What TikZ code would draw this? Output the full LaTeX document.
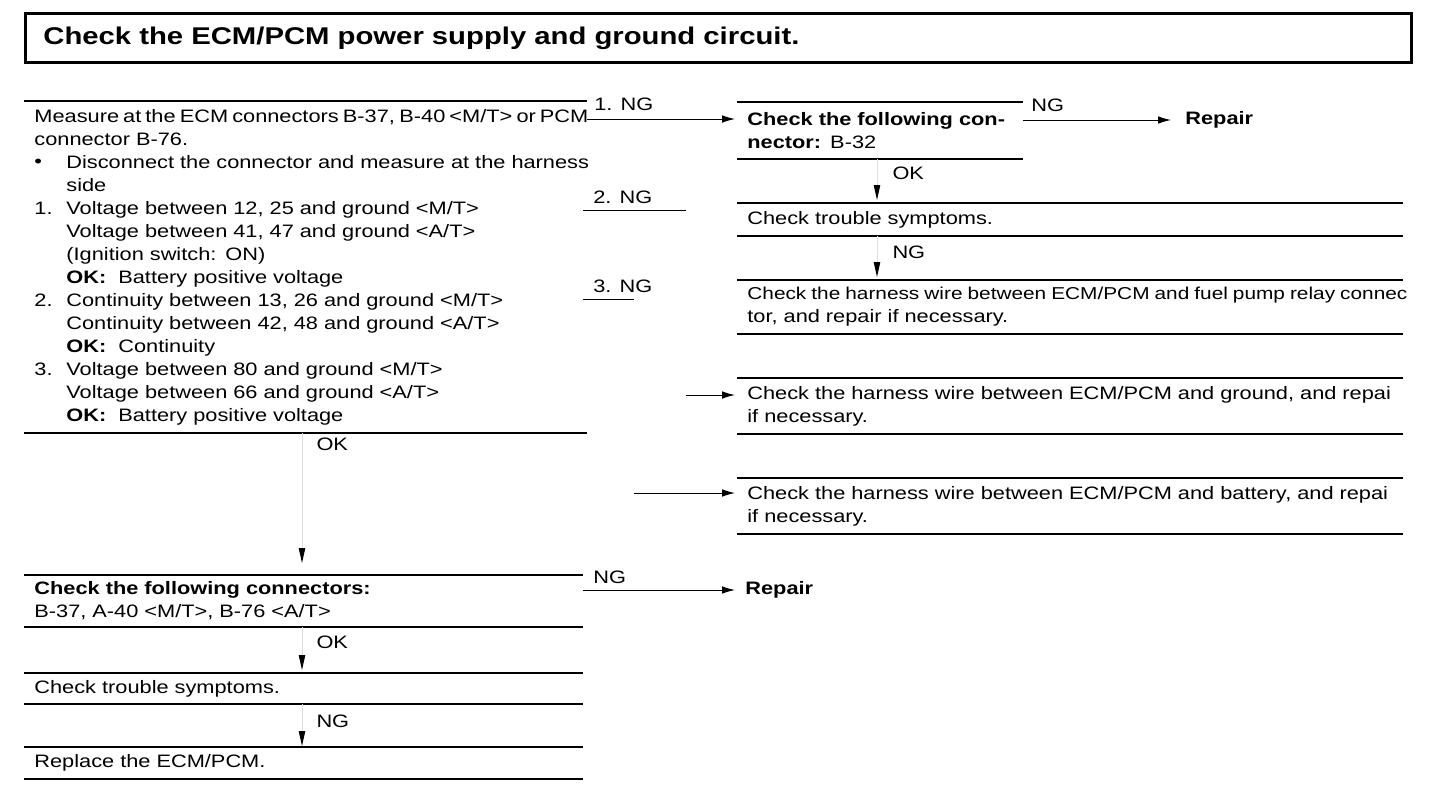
\documentclass[tikz,border=0pt]{standalone}
\usepackage{fontspec}
\setmainfont[FakeStretch=1.21]{Liberation Sans}
\usetikzlibrary{arrows.meta}

\newcommand{\itemlbl}[1]{\makebox[16pt][l]{#1}}

\begin{document}
\begin{tikzpicture}[
      x=0.5pt,
      y=-0.5pt,
      titlebox/.style={
        draw,
        line width=1.4pt,
        anchor=north west,
        font=\fontsize{12.1}{14}\selectfont\bfseries,
        align=left,
        inner xsep=9pt,
        inner ysep=0pt,
        text width=675pt,
        minimum height=24.5pt
      },
      stepbox/.style={
        anchor=north west,
        inner xsep=5pt,
        inner ysep=0pt,
        align=left,
        font=\fontsize{9}{11.5}\selectfont
      },
      steplabel/.style={font=\fontsize{9}{10}\selectfont, inner sep=0pt},
      rule/.style={line width=0.75pt},
      flow/.style={
        -{Latex[length=6.5pt,width=3.8pt]},
        line width=0.5pt
      },
      down/.style={
        draw=black!12,
        line width=0.5pt,
        -{Triangle[length=7.5pt,width=3.2pt,color=black]}
      }
    ]
    \useasboundingbox (0,0) rectangle (1440,788);

    \node[titlebox] (T) at (24,12) {Check the ECM/PCM power supply and ground circuit.};

    % left column
    \node[stepbox, text width=271pt, minimum height=165.5pt] (A) at (24,101) {
      \makebox[277pt][s]{\spaceskip=1.2pt plus 4pt Measure at the ECM connectors B-37, B-40 <M/T> or PCM}\\
      connector B-76.\\
      \itemlbl{\raisebox{0.5pt}{\textbullet}}\mbox{Disconnect the connector and measure at the harness}\\
      \itemlbl{}side\\
      \itemlbl{1.}Voltage between 12, 25 and ground <M/T>\\
      \itemlbl{}Voltage between 41, 47 and ground <A/T>\\
      \itemlbl{}(Ignition switch: ON)\\
      \itemlbl{}\textbf{OK:}~~Battery positive voltage\\
      \itemlbl{2.}Continuity between 13, 26 and ground <M/T>\\
      \itemlbl{}Continuity between 42, 48 and ground <A/T>\\
      \itemlbl{}\textbf{OK:}~~Continuity\\
      \itemlbl{3.}Voltage between 80 and ground <M/T>\\
      \itemlbl{}Voltage between 66 and ground <A/T>\\
      \itemlbl{}\textbf{OK:}~~Battery positive voltage
    };

    \node[stepbox, text width=269pt, minimum height=25.5pt] (G) at (24,575) {
      \textbf{Check the following connectors:}\\
      B-37, A-40 <M/T>, B-76 <A/T>
    };
    \node[stepbox, text width=269pt, minimum height=15pt] (H) at (24,673) {Check trouble symptoms.};
    \node[stepbox, text width=269pt, minimum height=15.5pt] (I) at (24,747) {Replace the ECM/PCM.};

    % right column
    \node[stepbox, text width=132.5pt, minimum height=28pt] (B) at (737,102) {
      \textbf{\makebox[\linewidth][s]{Check the following con-}}\\
      \textbf{nector:} B-32
    };
    \node[stepbox, text width=322.5pt, minimum height=16pt] (C) at (737,203) {Check trouble symptoms.};
    \node[stepbox, text width=322.5pt, minimum height=26.5pt] (D) at (737,280) {
      {\fontsize{8.6}{11.5}\selectfont\makebox[330pt][s]{\spaceskip=1.5pt plus 3pt Check the harness wire between ECM/PCM and fuel pump relay connec}}\\
      tor, and repair if necessary.
    };
    \node[stepbox, text width=322.5pt, minimum height=27.5pt] (E) at (737,378) {
      \makebox[330pt][s]{Check the harness wire between ECM/PCM and ground, and repai}\\
      if necessary.
    };
    \node[stepbox, text width=322.5pt, minimum height=27.5pt] (F) at (737,478) {
      \makebox[330pt][s]{Check the harness wire between ECM/PCM and battery, and repai}\\
      if necessary.
    };

    \node[stepbox, anchor=west, font=\fontsize{9}{11.5}\selectfont\bfseries, inner sep=0pt] (R1) at (1185,120) {Repair};
    \node[stepbox, anchor=west, font=\fontsize{9}{11.5}\selectfont\bfseries, inner sep=0pt] (R2) at (745,590) {Repair};

    \foreach \n in {A,B,C,D,E,F,G,H,I}
      \draw[rule] (\n.north west) -- (\n.north east) (\n.south west) -- (\n.south east);

    % NG branches out of the first check
    \coordinate (a1) at ([yshift=-9pt]A.north east);
    \draw[flow, shorten >=1pt] (a1) --
      node[steplabel, pos=0, anchor=south west, xshift=3.5pt, yshift=4pt] (ng1) {1. NG}
      (a1 -| B.west);

    \coordinate (a2) at ([yshift=-54.5pt]A.north east);
    \draw[line width=0.5pt] (a2) ++(-4,0) --
      node[steplabel, pos=0, anchor=south west, xshift=5pt, yshift=3pt] (ng2) {2. NG}
      ++(103,0) coordinate (a2e);
    \coordinate (e1) at ([yshift=-8.5pt]E.north west);
    \draw[flow, shorten >=1pt] (e1 -| a2e) -- (e1);

    \coordinate (a3) at ([yshift=-99pt]A.north east);
    \draw[line width=0.5pt] (a3) ++(-4,0) --
      node[steplabel, pos=0, anchor=south west, xshift=5pt, yshift=3pt] (ng3) {3. NG}
      ++(51,0) coordinate (a3e);
    \coordinate (f1) at ([yshift=-7.5pt]F.north west);
    \draw[flow, shorten >=1pt] (f1 -| a3e) -- (f1);

    % to repair
    \coordinate (b1) at ([yshift=-9pt]B.north east);
    \draw[flow, shorten >=7pt] (b1) --
      node[steplabel, pos=0, anchor=south west, xshift=4pt, yshift=4pt] (ng4) {NG}
      (b1 -| R1.west);

    \coordinate (g1) at ([yshift=-7.5pt]G.north east);
    \draw[flow, shorten >=5pt] (g1) --
      node[steplabel, pos=0, anchor=south west, xshift=5pt, yshift=3pt] (ng5) {NG}
      (g1 -| R2.west);

    % downward steps
    \coordinate (colL) at (302,0);
    \coordinate (colR) at (877,0);

    \draw[down, shorten >=6pt] (A.south -| colL) --
      node[steplabel, pos=0, anchor=north west, xshift=7pt, yshift=-2.5pt] (ok1) {OK}
      (G.north -| colL);
    \draw[down, shorten >=1.5pt] (G.south -| colL) --
      node[steplabel, pos=1, anchor=south west, xshift=7pt, yshift=12pt] (ok3) {OK}
      (H.north -| colL);
    \draw[down, shorten >=0.5pt] (H.south -| colL) --
      node[steplabel, pos=1, anchor=south west, xshift=7pt, yshift=9.5pt] (ng7) {NG}
      (I.north -| colL);

    \draw[down, shorten >=1.5pt] (B.south -| colR) --
      node[steplabel, pos=1, anchor=south west, xshift=7.5pt, yshift=11.5pt] (ok2) {OK}
      (C.north -| colR);
    \draw[down, shorten >=1.5pt] (C.south -| colR) --
      node[steplabel, pos=1, anchor=south west, xshift=7.5pt, yshift=10.5pt] (ng6) {NG}
      (D.north -| colR);
  \end{tikzpicture}
\end{document}
